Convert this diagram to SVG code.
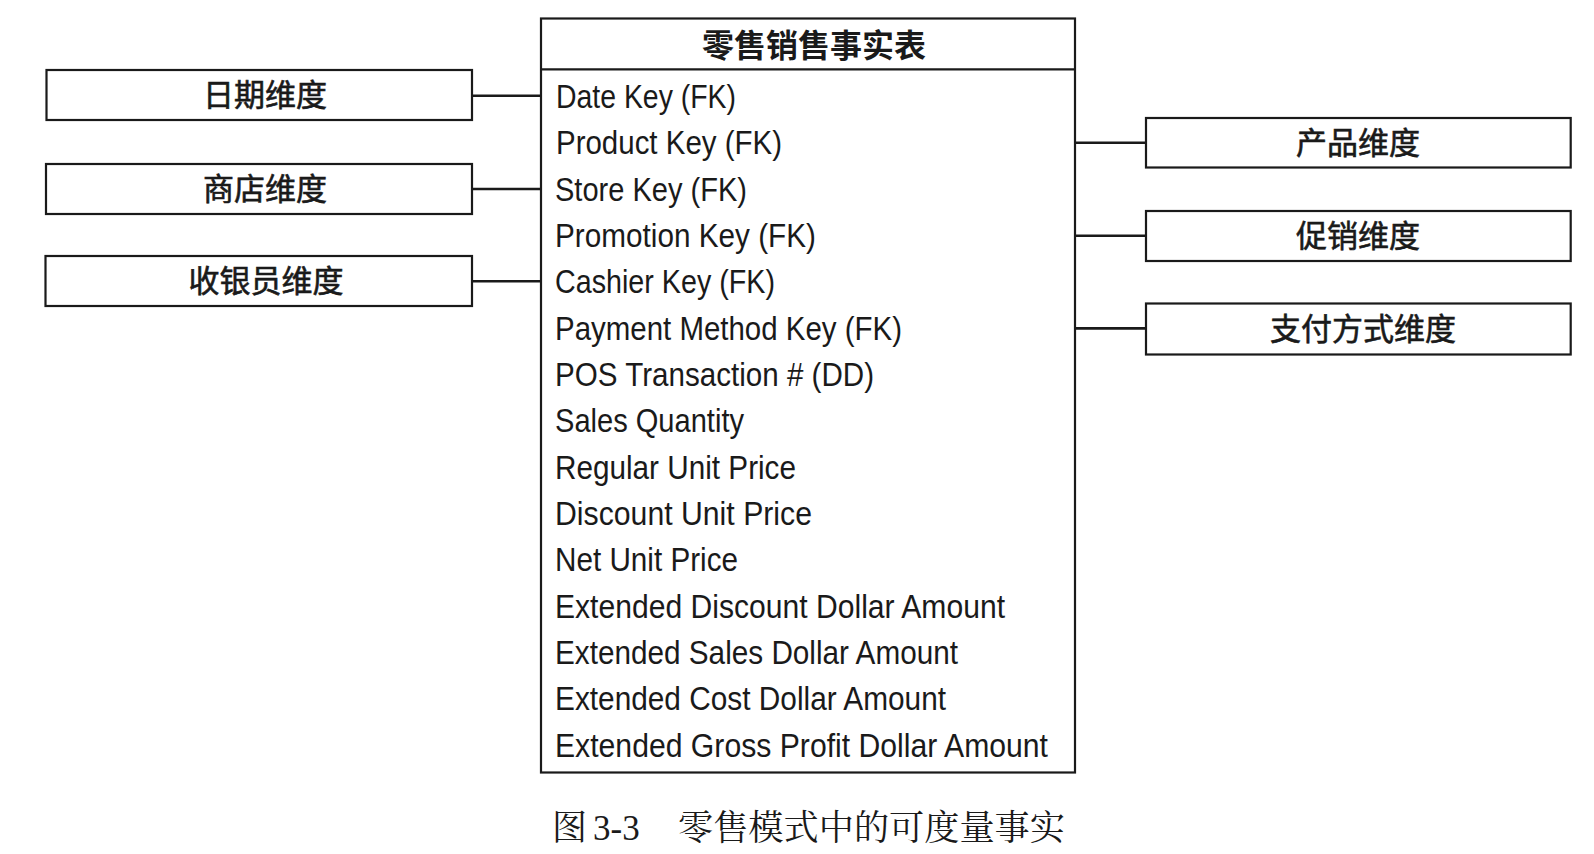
<svg xmlns="http://www.w3.org/2000/svg" width="1594" height="854" viewBox="0 0 1594 854">
<style>
.box{fill:#fff;stroke:#1a1a1a;stroke-width:2.2}
.conn{stroke:#1a1a1a;stroke-width:2.6;fill:none}
.lbl{font-family:"Noto Sans CJK SC","Liberation Sans",sans-serif;font-size:31px;font-weight:normal;fill:#1a1a1a;text-anchor:middle;dominant-baseline:central;stroke:#1a1a1a;stroke-width:0.6}
.title{font-family:"Noto Sans CJK SC","Liberation Sans",sans-serif;font-size:32px;font-weight:bold;fill:#1a1a1a;text-anchor:middle;dominant-baseline:central}
.row{font-family:"Liberation Sans",Arial,sans-serif;font-size:33px;fill:#1a1a1a}
.cap{font-family:"Liberation Serif","Noto Serif CJK SC","Noto Sans CJK SC",serif;font-size:35px;fill:#1a1a1a}
</style>
<rect x="0" y="0" width="1594" height="854" fill="#fff"/>
<g id="connectors">
<line class="conn" x1="472" y1="95.7" x2="541" y2="95.7"/>
<line class="conn" x1="472" y1="189" x2="541" y2="189"/>
<line class="conn" x1="472" y1="281.3" x2="541" y2="281.3"/>
<line class="conn" x1="1075" y1="142.7" x2="1146" y2="142.7"/>
<line class="conn" x1="1075" y1="235.8" x2="1146" y2="235.8"/>
<line class="conn" x1="1075" y1="328.4" x2="1146" y2="328.4"/>
</g>
<g id="date-dim">
<rect class="box" x="46.5" y="70" width="425.5" height="50"/>
<text class="lbl" x="265" y="92.5">日期维度</text>
</g>
<g id="store-dim">
<rect class="box" x="46" y="164" width="426" height="50"/>
<text class="lbl" x="265" y="186.5">商店维度</text>
</g>
<g id="cashier-dim">
<rect class="box" x="45.5" y="256" width="426.5" height="50"/>
<text class="lbl" x="266" y="278.5">收银员维度</text>
</g>
<g id="product-dim">
<rect class="box" x="1146" y="118" width="424.7" height="49.5"/>
<text class="lbl" x="1358" y="140.5">产品维度</text>
</g>
<g id="promotion-dim">
<rect class="box" x="1146" y="211" width="424.7" height="50"/>
<text class="lbl" x="1358" y="233.5">促销维度</text>
</g>
<g id="payment-dim">
<rect class="box" x="1146" y="303.5" width="424.7" height="51"/>
<text class="lbl" x="1363" y="326.5">支付方式维度</text>
</g>
<g id="fact-table">
<rect class="box" x="541" y="18.5" width="534" height="754"/>
<line class="conn" x1="541" y1="69.3" x2="1075" y2="69.3" style="stroke-width:2.2"/>
<text class="title" x="814" y="43">零售销售事实表</text>
<text class="row" x="556" y="108" textLength="180" lengthAdjust="spacingAndGlyphs">Date Key (FK)</text>
<text class="row" x="556" y="154.3" textLength="226" lengthAdjust="spacingAndGlyphs">Product Key (FK)</text>
<text class="row" x="555" y="200.7" textLength="192" lengthAdjust="spacingAndGlyphs">Store Key (FK)</text>
<text class="row" x="555" y="247" textLength="261" lengthAdjust="spacingAndGlyphs">Promotion Key (FK)</text>
<text class="row" x="555" y="293.3" textLength="220" lengthAdjust="spacingAndGlyphs">Cashier Key (FK)</text>
<text class="row" x="555" y="339.7" textLength="347" lengthAdjust="spacingAndGlyphs">Payment Method Key (FK)</text>
<text class="row" x="555" y="386" textLength="319" lengthAdjust="spacingAndGlyphs">POS Transaction # (DD)</text>
<text class="row" x="555" y="432.3" textLength="189" lengthAdjust="spacingAndGlyphs">Sales Quantity</text>
<text class="row" x="555" y="478.6" textLength="241" lengthAdjust="spacingAndGlyphs">Regular Unit Price</text>
<text class="row" x="555" y="525" textLength="257" lengthAdjust="spacingAndGlyphs">Discount Unit Price</text>
<text class="row" x="555" y="571.3" textLength="183" lengthAdjust="spacingAndGlyphs">Net Unit Price</text>
<text class="row" x="555" y="617.6" textLength="450" lengthAdjust="spacingAndGlyphs">Extended Discount Dollar Amount</text>
<text class="row" x="555" y="664" textLength="403" lengthAdjust="spacingAndGlyphs">Extended Sales Dollar Amount</text>
<text class="row" x="555" y="710.3" textLength="391" lengthAdjust="spacingAndGlyphs">Extended Cost Dollar Amount</text>
<text class="row" x="555" y="756.7" textLength="493" lengthAdjust="spacingAndGlyphs">Extended Gross Profit Dollar Amount</text>
</g>
<text class="cap" y="840"><tspan x="552">图</tspan><tspan x="593">3-3</tspan><tspan x="678" textLength="387" lengthAdjust="spacingAndGlyphs">零售模式中的可度量事实</tspan></text>
</svg>
